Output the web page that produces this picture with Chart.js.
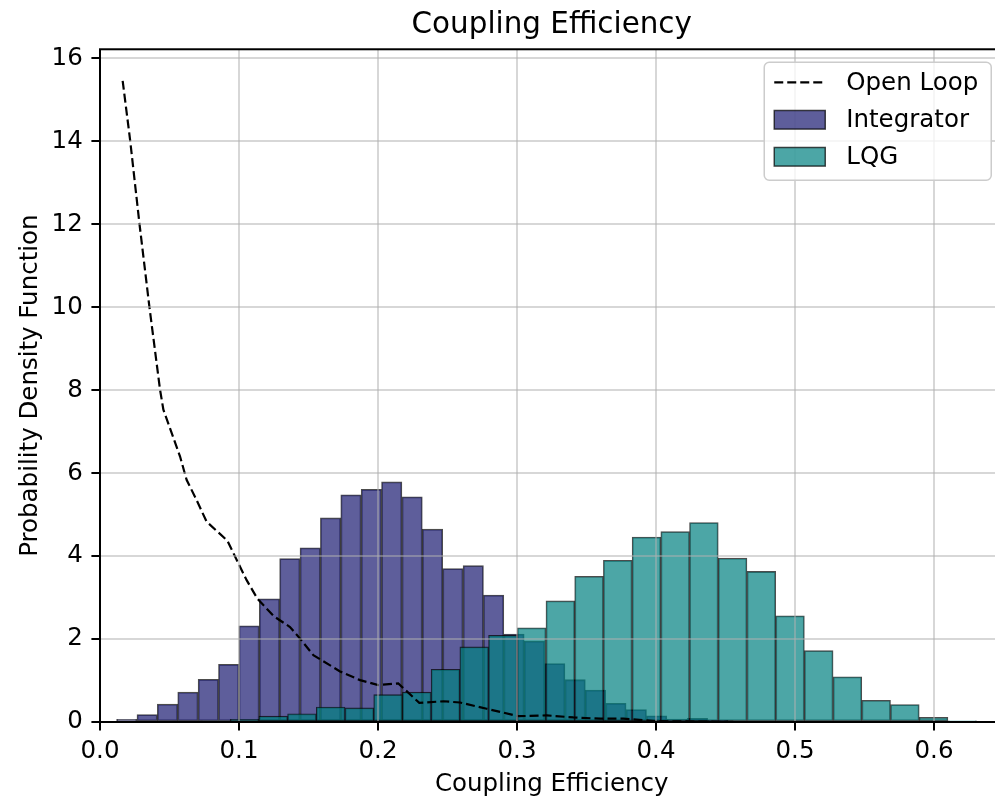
<!DOCTYPE html>
<html>
<head>
<meta charset="utf-8">
<script src="https://cdn.jsdelivr.net/npm/chart.js@4/dist/chart.umd.min.js"></script>
<style>
  html, body { margin: 0; padding: 0; background: #fff; overflow: hidden; }
  #wrap { width: 995px; height: 801px; overflow: hidden; }
  #chart { display: block; }
</style>
</head>
<body>
<div id="wrap"><canvas id="chart" width="1010" height="801"></canvas></div>
<script>
// histogram bins: first left edge, bin width, densities
const integratorStart = 0.01194;
const integratorWidth = 0.014662;
const integratorDensity = [0.065, 0.18, 0.43, 0.72, 1.03, 1.39, 2.32, 2.97, 3.94, 4.20,
  4.92, 5.48, 5.61, 5.79, 5.43, 4.65, 3.70, 3.77, 3.06, 2.12,
  1.95, 1.41, 1.02, 0.77, 0.45, 0.30, 0.15, 0.07, 0.09, 0.04, 0.02];

const lqgStart = 0.05233;
const lqgWidth = 0.020655;
const lqgDensity = [0.01, 0.02, 0.065, 0.14, 0.20, 0.36, 0.34, 0.66, 0.72, 1.27,
  1.81, 2.09, 2.27, 2.92, 3.51, 3.90, 4.46, 4.59, 4.81, 3.95,
  3.63, 2.56, 1.72, 1.09, 0.52, 0.42, 0.11, 0.03];

// open loop pdf curve
const openLoopX = [0.0163, 0.0216, 0.0283, 0.0355, 0.0432, 0.0456, 0.0576, 0.0623, 0.0695, 0.0767,
  0.0917, 0.0983, 0.1055, 0.1133, 0.1250, 0.1367, 0.1439, 0.1535, 0.1727, 0.1871,
  0.2002, 0.2146, 0.2297, 0.2470, 0.2590, 0.2782, 0.3010, 0.3214, 0.3405, 0.3600,
  0.3765, 0.4005, 0.4300, 0.4600];
const openLoopY = [15.46, 14.05, 12.04, 10.02, 8.01, 7.53, 6.40, 5.84, 5.35, 4.83,
  4.37, 3.91, 3.42, 2.97, 2.55, 2.29, 2.01, 1.61, 1.22, 1.01,
  0.89, 0.93, 0.46, 0.50, 0.47, 0.32, 0.14, 0.16, 0.11, 0.08,
  0.08, 0.02, 0.01, 0.0];

const xMin = 0, xMax = 0.65, xStep = 0.1;
const yMin = 0, yMax = 16.22, yStep = 2;

const FONT = 'DejaVu Sans';
const FS = 24.5;

function binPoints(start, width, dens) {
  return dens.map((v, i) => ({ x: start + (i + 0.5) * width, y: v }));
}

const frame = {
  id: 'frame',
  afterDraw(chart) {
    const { ctx, chartArea: a } = chart;
    ctx.save();
    ctx.strokeStyle = '#000';
    ctx.lineWidth = 2;
    ctx.strokeRect(a.left, a.top, a.right - a.left, a.bottom - a.top);
    ctx.restore();
  }
};

// matplotlib style legend in the upper right of the axes
const insideLegend = {
  id: 'insideLegend',
  afterDraw(chart) {
    const { ctx, chartArea } = chart;
    const boxW = 227, boxH = 118;
    const right = chartArea.right - 12.25;
    const top = chartArea.top + 13;
    const left = right - boxW;
    ctx.save();
    ctx.beginPath();
    ctx.roundRect(left, top, boxW, boxH, 5);
    ctx.fillStyle = 'rgba(255,255,255,0.8)';
    ctx.fill();
    ctx.lineWidth = 1.5;
    ctx.strokeStyle = '#cccccc';
    ctx.stroke();
    ctx.font = FS + 'px "' + FONT + '"';
    ctx.textBaseline = 'middle';
    const rows = [20, 57.5, 94.5];
    chart.data.datasets.forEach((ds, i) => {
      const cy = top + rows[i];
      const hx0 = left + 10, hx1 = left + 61;
      if (ds.type === 'line') {
        ctx.save();
        ctx.setLineDash(ds.borderDash);
        ctx.lineWidth = ds.borderWidth;
        ctx.strokeStyle = ds.borderColor;
        ctx.beginPath();
        ctx.moveTo(hx0, cy);
        ctx.lineTo(hx1, cy);
        ctx.stroke();
        ctx.restore();
      } else {
        ctx.fillStyle = ds.backgroundColor;
        ctx.fillRect(hx0, cy - 9.3, hx1 - hx0, 18.6);
        ctx.lineWidth = 1.5;
        ctx.strokeStyle = ds.borderColor;
        ctx.strokeRect(hx0, cy - 9.3, hx1 - hx0, 18.6);
      }
      ctx.fillStyle = '#000';
      ctx.fillText(ds.label, left + 82, cy + 1);
    });
    ctx.restore();
  }
};

Chart.defaults.font.family = FONT;
Chart.defaults.color = '#000';

const gridColor = 'rgba(176,176,176,0.5)';

new Chart(document.getElementById('chart'), {
  type: 'bar',
  data: {
    datasets: [
      {
        type: 'line',
        label: 'Open Loop',
        data: openLoopX.map((x, i) => ({ x: x, y: openLoopY[i] })),
        borderColor: '#000',
        borderWidth: 2.2,
        borderDash: [9, 4],
        pointRadius: 0,
        fill: false,
        tension: 0,
        order: 0,
        xAxisID: 'x'
      },
      {
        label: 'Integrator',
        data: binPoints(integratorStart, integratorWidth, integratorDensity),
        backgroundColor: 'rgba(25,25,112,0.7)',
        borderColor: 'rgba(0,0,0,0.7)',
        borderWidth: 1.1,
        borderSkipped: false,
        barPercentage: 1,
        categoryPercentage: 1,
        grouped: false,
        order: 2,
        xAxisID: 'x'
      },
      {
        label: 'LQG',
        data: binPoints(lqgStart, lqgWidth, lqgDensity),
        backgroundColor: 'rgba(0,128,128,0.7)',
        borderColor: 'rgba(0,0,0,0.7)',
        borderWidth: 1.1,
        borderSkipped: false,
        barPercentage: 1,
        categoryPercentage: 1,
        grouped: false,
        order: 1,
        xAxisID: 'xq'
      }
    ]
  },
  options: {
    responsive: false,
    animation: false,
    layout: { padding: { left: 0, right: 6.5, top: 0, bottom: 0 } },
    plugins: {
      legend: { display: false },
      tooltip: { enabled: false },
      title: {
        display: true,
        fullSize: false,
        text: 'Coupling Efficiency',
        font: { size: 29.4, weight: 'normal' },
        color: '#000',
        padding: { top: 7.5, bottom: 6.5 }
      }
    },
    scales: {
      x: {
        type: 'linear',
        min: xMin,
        max: xMax,
        offset: false,
        afterFit: (s) => { s.height = 79; },
        ticks: {
          stepSize: xStep,
          includeBounds: false,
          font: { size: FS },
          padding: 6,
          maxRotation: 0,
          callback: (v) => v.toFixed(1)
        },
        grid: { z: 1, color: gridColor, lineWidth: 2, tickColor: '#000', tickWidth: 2, tickLength: 8.6, offset: false },
        border: { display: false },
        title: { display: true, text: 'Coupling Efficiency', font: { size: FS }, padding: { top: 0, bottom: 2 } }
      },
      xq: {
        type: 'linear',
        min: xMin,
        max: xMax,
        offset: false,
        display: false,
        ticks: { stepSize: xStep, includeBounds: false }
      },
      y: {
        type: 'linear',
        min: yMin,
        max: yMax,
        afterFit: (s) => { s.width = 100; },
        ticks: {
          stepSize: yStep,
          includeBounds: false,
          font: { size: FS },
          padding: 8.6
        },
        grid: { z: 1, color: gridColor, lineWidth: 2, tickColor: '#000', tickWidth: 2, tickLength: 8.6 },
        border: { display: false },
        title: { display: true, text: 'Probability Density Function', font: { size: FS }, padding: { top: 16, bottom: 0 } }
      }
    }
  },
  plugins: [frame, insideLegend]
});
</script>
</body>
</html>
